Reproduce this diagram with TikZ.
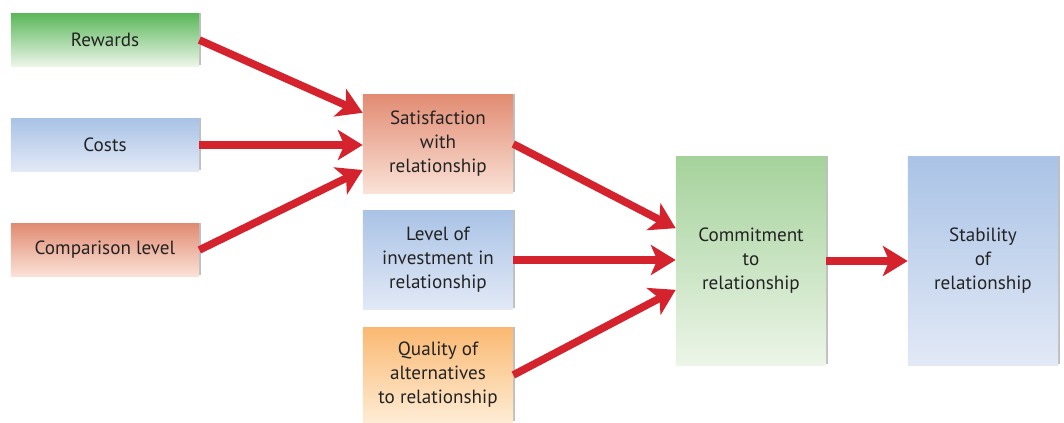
\documentclass[tikz,border=0pt]{standalone}
\usepackage{fontspec}
\setmainfont{PT Sans}
\usepackage{tikz}
\usetikzlibrary{positioning, arrows.meta, shadows, calc}

\definecolor{arrowred}{RGB}{213,35,45}
\definecolor{txtgray}{RGB}{35,35,35}
\definecolor{grntop}{RGB}{92,184,92}
\definecolor{grnbot}{RGB}{236,245,232}
\definecolor{pgrntop}{RGB}{165,210,155}
\definecolor{bluetop}{RGB}{170,195,230}
\definecolor{bluebot}{RGB}{226,233,246}
\definecolor{salmtop}{RGB}{226,140,115}
\definecolor{salmbot}{RGB}{250,226,215}
\definecolor{orgtop}{RGB}{250,185,115}
\definecolor{orgbot}{RGB}{254,236,212}

\begin{document}
\begin{tikzpicture}[
  x=0.025cm, y=-0.025cm,
  font=\fontsize{13.6}{17}\selectfont,
  box/.style={draw=none, align=center, text=txtgray,
              drop shadow={shadow xshift=1.5pt, shadow yshift=1pt,
                           opacity=0.25, fill=black}},
  wide/.style={box, minimum width=4.7cm, minimum height=1.3cm},
  mid/.style={box, minimum width=3.75cm, minimum height=2.45cm},
  tall/.style={box, minimum width=3.75cm, minimum height=5.2cm},
  grn/.style={top color=grntop, bottom color=grnbot},
  pgrn/.style={top color=pgrntop, bottom color=grnbot},
  blu/.style={top color=bluetop, bottom color=bluebot},
  salm/.style={top color=salmtop, bottom color=salmbot},
  org/.style={top color=orgtop, bottom color=orgbot},
  link/.style={draw=arrowred, line width=5.4pt,
               -{Stealth[length=6.2mm, width=7.5mm, inset=1.6mm]}}
]
\useasboundingbox (0,0) rectangle (1064,422);

% left column
\node[wide, grn]  (rew) at (105,40)  {Rewards};
\node[wide, blu]  (cost) at (105,145) {Costs};
\node[wide, salm] (comp) at (105,250) {Comparison level};

% middle column
\node[mid, salm] (sat) at (438,144) {Satisfaction\\with\\relationship};
\node[mid, blu]  (inv) at (438,260) {Level of\\investment in\\relationship};
\node[box, org, minimum width=3.75cm, minimum height=2.35cm]
  (alt) at (438,375) {Quality of\\alternatives\\to relationship};

% right
\node[tall, pgrn] (comm) at (751,261) {Commitment\\to\\relationship};
\node[tall, blu]  (stab) at (983,261) {Stability\\of\\relationship};

% arrows
\draw[link] (rew.east)  -- ([yshift=0.78cm]sat.west);
\draw[link] (cost.east) -- (sat.west |- cost.east);
\draw[link] (comp.east) -- ([yshift=-0.65cm]sat.west);
\draw[link] (sat.east)  -- ([yshift=0.82cm]comm.west);
\draw[link] (inv.east)  -- (comm.west |- inv.east);
\draw[link] (alt.east)  -- ([yshift=-0.72cm]comm.west);
\draw[link] (comm.east) -- (stab.west);
\end{tikzpicture}
\end{document}
